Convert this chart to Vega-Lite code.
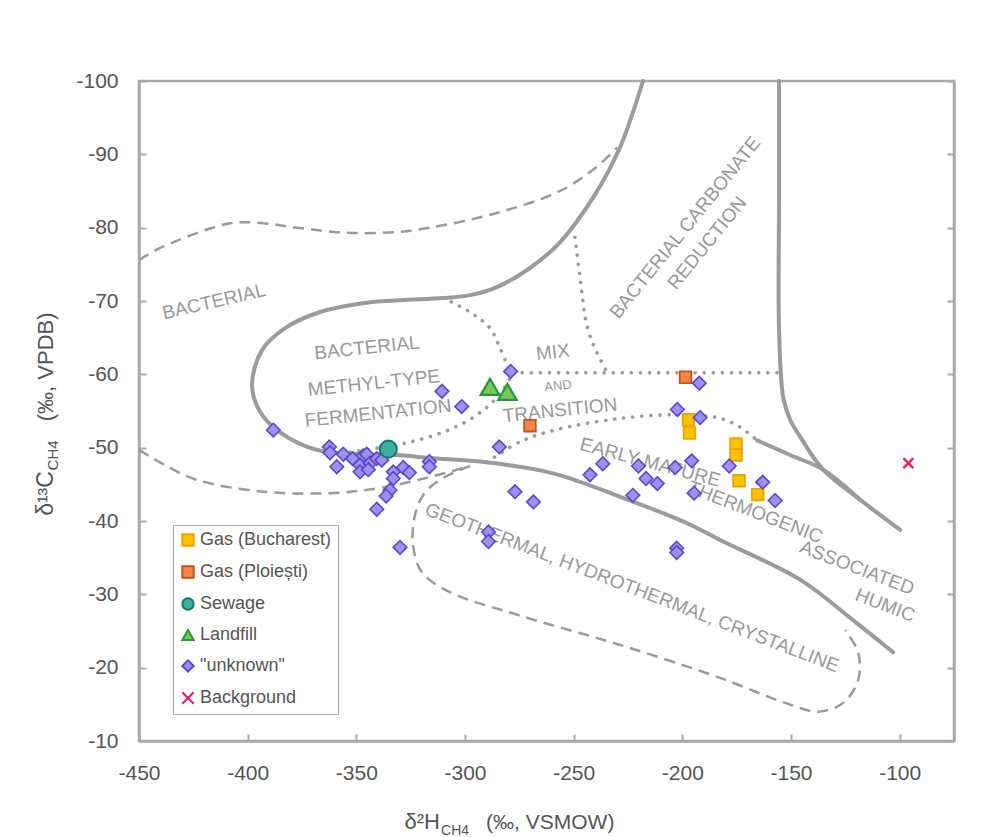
{
  "$schema": "https://vega.github.io/schema/vega-lite/v6.json",
  "width": 815,
  "height": 660,
  "autosize": "none",
  "padding": {"left": 139, "top": 81, "right": 27, "bottom": 96},
  "background": "white",
  "config": {
    "font": "Liberation Sans",
    "view": {"stroke": "#aaaaaa", "strokeWidth": 2.5},
    "axis": {"domainColor": "#aaaaaa", "domainWidth": 2.5, "tickColor": "#aaaaaa", "tickWidth": 2, "tickSize": -7, "labelPadding": 28, "labelFontSize": 21, "labelColor": "#555555", "labelFont": "Liberation Sans", "grid": false, "title": null, "labelFlush": false, "labelExpr": "datum.value + ''"},
    "legend": {"labelFontSize": 18, "labelColor": "#555555", "labelFont": "Liberation Sans", "symbolSize": 130, "symbolStrokeWidth": 2, "rowPadding": 12, "padding": 6, "strokeColor": "#aaaaaa", "fillColor": "#ffffff", "labelOffset": 3}
  },
  "datasets": {
    "curves": [
      {"c":"S1","s":"solid","i":0,"x":-218.1,"y":-100},{"c":"S1","s":"solid","i":1,"x":-223.1,"y":-95.4},{"c":"S1","s":"solid","i":2,"x":-228.6,"y":-91.0},{"c":"S1","s":"solid","i":3,"x":-240.2,"y":-84.5},{"c":"S1","s":"solid","i":4,"x":-256.3,"y":-78.0},{"c":"S1","s":"solid","i":5,"x":-270.1,"y":-74.5},{"c":"S1","s":"solid","i":6,"x":-285.3,"y":-71.9},{"c":"S1","s":"solid","i":7,"x":-297.7,"y":-70.8},{"c":"S1","s":"solid","i":8,"x":-310.1,"y":-70.4},{"c":"S1","s":"solid","i":9,"x":-329.9,"y":-70.1},{"c":"S1","s":"solid","i":10,"x":-346.9,"y":-69.7},{"c":"S1","s":"solid","i":11,"x":-366.7,"y":-68.5},{"c":"S1","s":"solid","i":12,"x":-382.8,"y":-66.3},{"c":"S1","s":"solid","i":13,"x":-393.4,"y":-63.3},{"c":"S1","s":"solid","i":14,"x":-398.0,"y":-58.5},{"c":"S1","s":"solid","i":15,"x":-394.3,"y":-54.9},{"c":"S1","s":"solid","i":16,"x":-385.1,"y":-52.1},{"c":"S1","s":"solid","i":17,"x":-368.1,"y":-49.7},{"c":"S1","s":"solid","i":18,"x":-346.9,"y":-49.1},{"c":"S1","s":"solid","i":19,"x":-331.3,"y":-49.0},{"c":"S1","s":"solid","i":20,"x":-316.1,"y":-48.6},{"c":"S1","s":"solid","i":21,"x":-289.9,"y":-48.0},{"c":"S1","s":"solid","i":22,"x":-259.5,"y":-46.5},{"c":"S1","s":"solid","i":23,"x":-228.6,"y":-43.3},{"c":"S1","s":"solid","i":24,"x":-197.8,"y":-39.7},{"c":"S1","s":"solid","i":25,"x":-182.6,"y":-37.4},{"c":"S1","s":"solid","i":26,"x":-145.8,"y":-32.0},{"c":"S1","s":"solid","i":27,"x":-122.8,"y":-26.8},{"c":"S1","s":"solid","i":28,"x":-103.0,"y":-22.1},
      {"c":"S2","s":"solid","i":0,"x":-155.5,"y":-100},{"c":"S2","s":"solid","i":1,"x":-155.5,"y":-83.8},{"c":"S2","s":"solid","i":2,"x":-155.5,"y":-66.0},{"c":"S2","s":"solid","i":3,"x":-153.6,"y":-56.9},{"c":"S2","s":"solid","i":4,"x":-150.4,"y":-53.8},{"c":"S2","s":"solid","i":5,"x":-145.8,"y":-51.5},{"c":"S2","s":"solid","i":6,"x":-135.2,"y":-47.0},{"c":"S2","s":"solid","i":7,"x":-118.2,"y":-42.9},{"c":"S2","s":"solid","i":8,"x":-99.8,"y":-38.8},
      {"c":"S3","s":"solid","i":0,"x":-165.6,"y":-51.0},{"c":"S3","s":"solid","i":1,"x":-150.4,"y":-49.0},{"c":"S3","s":"solid","i":2,"x":-135.2,"y":-47.0},{"c":"S3","s":"solid","i":3,"x":-118.2,"y":-42.9},
      {"c":"D1","s":"dotted","i":0,"x":-277.9,"y":-60.2},{"c":"D1","s":"dotted","i":1,"x":-153.6,"y":-60.2},
      {"c":"D2","s":"dotted","i":0,"x":-352.9,"y":-49.4},{"c":"D2","s":"dotted","i":1,"x":-331.3,"y":-50.4},{"c":"D2","s":"dotted","i":2,"x":-316.1,"y":-51.5},{"c":"D2","s":"dotted","i":3,"x":-302.3,"y":-53.1},{"c":"D2","s":"dotted","i":4,"x":-289.9,"y":-55.5},{"c":"D2","s":"dotted","i":5,"x":-282.5,"y":-57.9},{"c":"D2","s":"dotted","i":6,"x":-277.9,"y":-60.2},
      {"c":"D3","s":"dotted","i":0,"x":-310.1,"y":-70.4},{"c":"D3","s":"dotted","i":1,"x":-297.7,"y":-68.5},{"c":"D3","s":"dotted","i":2,"x":-288.5,"y":-66.3},{"c":"D3","s":"dotted","i":3,"x":-283.9,"y":-63.6},{"c":"D3","s":"dotted","i":4,"x":-279.3,"y":-60.3},
      {"c":"D4","s":"dotted","i":0,"x":-249.4,"y":-78.7},{"c":"D4","s":"dotted","i":1,"x":-247.1,"y":-73.3},{"c":"D4","s":"dotted","i":2,"x":-243.8,"y":-66.5},{"c":"D4","s":"dotted","i":3,"x":-239.2,"y":-62.9},{"c":"D4","s":"dotted","i":4,"x":-234.6,"y":-60.3},
      {"c":"D5","s":"dotted","i":0,"x":-289.9,"y":-48.0},{"c":"D5","s":"dotted","i":1,"x":-274.7,"y":-50.8},{"c":"D5","s":"dotted","i":2,"x":-258.6,"y":-52.4},{"c":"D5","s":"dotted","i":3,"x":-228.6,"y":-54.0},{"c":"D5","s":"dotted","i":4,"x":-197.4,"y":-54.5},{"c":"D5","s":"dotted","i":5,"x":-182.6,"y":-54.0},{"c":"D5","s":"dotted","i":6,"x":-173.4,"y":-52.8},{"c":"D5","s":"dotted","i":7,"x":-165.6,"y":-51.0},
      {"c":"B1","s":"dashed","i":0,"x":-450,"y":-75.6},{"c":"B1","s":"dashed","i":1,"x":-439.0,"y":-77.4},{"c":"B1","s":"dashed","i":2,"x":-408.1,"y":-80.6},{"c":"B1","s":"dashed","i":3,"x":-393.0,"y":-80.6},{"c":"B1","s":"dashed","i":4,"x":-377.3,"y":-80.0},{"c":"B1","s":"dashed","i":5,"x":-354.3,"y":-79.3},{"c":"B1","s":"dashed","i":6,"x":-331.3,"y":-79.4},{"c":"B1","s":"dashed","i":7,"x":-316.1,"y":-80.0},{"c":"B1","s":"dashed","i":8,"x":-285.3,"y":-82.0},{"c":"B1","s":"dashed","i":9,"x":-256.3,"y":-85.0},{"c":"B1","s":"dashed","i":10,"x":-241.1,"y":-87.9},{"c":"B1","s":"dashed","i":11,"x":-230.0,"y":-90.9},
      {"c":"B2","s":"dashed","i":0,"x":-450,"y":-49.7},{"c":"B2","s":"dashed","i":1,"x":-438.0,"y":-47.6},{"c":"B2","s":"dashed","i":2,"x":-423.3,"y":-45.6},{"c":"B2","s":"dashed","i":3,"x":-393.0,"y":-44.0},{"c":"B2","s":"dashed","i":4,"x":-362.1,"y":-43.8},{"c":"B2","s":"dashed","i":5,"x":-339.1,"y":-44.5},{"c":"B2","s":"dashed","i":6,"x":-316.1,"y":-46.0},{"c":"B2","s":"dashed","i":7,"x":-297.7,"y":-47.5},
      {"c":"G","s":"dashed","i":0,"x":-297.7,"y":-47.5},{"c":"G","s":"dashed","i":1,"x":-309.2,"y":-46.0},{"c":"G","s":"dashed","i":2,"x":-318.4,"y":-43.9},{"c":"G","s":"dashed","i":3,"x":-323.0,"y":-40.8},{"c":"G","s":"dashed","i":4,"x":-323.9,"y":-36.7},{"c":"G","s":"dashed","i":5,"x":-319.8,"y":-33.0},{"c":"G","s":"dashed","i":6,"x":-306.9,"y":-30.3},{"c":"G","s":"dashed","i":7,"x":-274.7,"y":-27.1},{"c":"G","s":"dashed","i":8,"x":-228.6,"y":-23.1},{"c":"G","s":"dashed","i":9,"x":-182.6,"y":-18.6},{"c":"G","s":"dashed","i":10,"x":-152.7,"y":-15.2},{"c":"G","s":"dashed","i":11,"x":-137.5,"y":-14.0},{"c":"G","s":"dashed","i":12,"x":-126.0,"y":-15.2},{"c":"G","s":"dashed","i":13,"x":-119.1,"y":-18.3},{"c":"G","s":"dashed","i":14,"x":-119.1,"y":-22.1},{"c":"G","s":"dashed","i":15,"x":-125.1,"y":-25.1}
    ],
    "points": [
      {"type":"Gas (Bucharest)","x":-197.2,"y":-53.8},{"type":"Gas (Bucharest)","x":-196.7,"y":-52.0},{"type":"Gas (Bucharest)","x":-175.3,"y":-50.5},{"type":"Gas (Bucharest)","x":-175.3,"y":-49.0},{"type":"Gas (Bucharest)","x":-173.9,"y":-45.5},{"type":"Gas (Bucharest)","x":-165.3,"y":-43.6},
      {"type":"Gas (Ploiești)","x":-198.5,"y":-59.6},{"type":"Gas (Ploiești)","x":-270.1,"y":-53.0},
      {"type":"\"unknown\"","x":-388.2,"y":-52.4},{"type":"\"unknown\"","x":-362.4,"y":-50.1},{"type":"\"unknown\"","x":-362.1,"y":-49.3},{"type":"\"unknown\"","x":-356.0,"y":-49.1},{"type":"\"unknown\"","x":-359.0,"y":-47.4},{"type":"\"unknown\"","x":-351.7,"y":-48.5},{"type":"\"unknown\"","x":-346.8,"y":-48.9},{"type":"\"unknown\"","x":-345.2,"y":-49.1},{"type":"\"unknown\"","x":-348.3,"y":-47.6},{"type":"\"unknown\"","x":-348.3,"y":-46.7},{"type":"\"unknown\"","x":-343.7,"y":-47.9},{"type":"\"unknown\"","x":-344.5,"y":-47.0},{"type":"\"unknown\"","x":-340.6,"y":-48.5},{"type":"\"unknown\"","x":-338.3,"y":-48.3},{"type":"\"unknown\"","x":-333.0,"y":-46.7},{"type":"\"unknown\"","x":-333.0,"y":-45.8},{"type":"\"unknown\"","x":-328.4,"y":-47.3},{"type":"\"unknown\"","x":-325.6,"y":-46.6},{"type":"\"unknown\"","x":-334.5,"y":-44.2},{"type":"\"unknown\"","x":-336.3,"y":-43.4},{"type":"\"unknown\"","x":-340.6,"y":-41.6},{"type":"\"unknown\"","x":-329.9,"y":-36.4},{"type":"\"unknown\"","x":-316.4,"y":-48.1},{"type":"\"unknown\"","x":-316.4,"y":-47.4},{"type":"\"unknown\"","x":-310.6,"y":-57.7},{"type":"\"unknown\"","x":-301.5,"y":-55.6},{"type":"\"unknown\"","x":-279.0,"y":-60.4},{"type":"\"unknown\"","x":-284.2,"y":-50.1},{"type":"\"unknown\"","x":-277.0,"y":-44.0},{"type":"\"unknown\"","x":-268.5,"y":-42.6},{"type":"\"unknown\"","x":-289.2,"y":-38.5},{"type":"\"unknown\"","x":-289.2,"y":-37.2},{"type":"\"unknown\"","x":-242.5,"y":-46.3},{"type":"\"unknown\"","x":-236.6,"y":-47.8},{"type":"\"unknown\"","x":-220.2,"y":-47.5},{"type":"\"unknown\"","x":-216.7,"y":-45.8},{"type":"\"unknown\"","x":-211.5,"y":-45.1},{"type":"\"unknown\"","x":-222.8,"y":-43.5},{"type":"\"unknown\"","x":-202.6,"y":-36.3},{"type":"\"unknown\"","x":-202.6,"y":-35.7},{"type":"\"unknown\"","x":-202.3,"y":-55.2},{"type":"\"unknown\"","x":-192.2,"y":-58.8},{"type":"\"unknown\"","x":-191.8,"y":-54.1},{"type":"\"unknown\"","x":-195.7,"y":-48.2},{"type":"\"unknown\"","x":-203.3,"y":-47.3},{"type":"\"unknown\"","x":-194.6,"y":-43.8},{"type":"\"unknown\"","x":-178.4,"y":-47.5},{"type":"\"unknown\"","x":-163.0,"y":-45.3},{"type":"\"unknown\"","x":-157.3,"y":-42.8},
      {"type":"Sewage","x":-335.3,"y":-49.8},
      {"type":"Landfill","x":-288.5,"y":-58.3},{"type":"Landfill","x":-280.5,"y":-57.6},
      {"type":"Background","x":-96.0,"y":-47.9}
    ]
  },
  "encoding": {
    "x": {"field": "x", "type": "quantitative", "scale": {"domain": [-450, -75], "nice": false, "zero": false}, "axis": {"values": [-450, -400, -350, -300, -250, -200, -150, -100]}},
    "y": {"field": "y", "type": "quantitative", "scale": {"domain": [-100, -10], "reverse": true, "nice": false, "zero": false}, "axis": null}
  },
  "layer": [
    {
      "data": {"name": "curves"},
      "transform": [{"filter": "datum.s === 'solid'"}],
      "mark": {"type": "line", "color": "#9b9b9b", "strokeWidth": 4, "interpolate": "catmull-rom", "strokeCap": "round"},
      "encoding": {
        "y": {"field": "y", "type": "quantitative", "scale": {"domain": [-100, -10], "reverse": true, "nice": false, "zero": false}, "axis": {"orient": "left", "values": [-100, -90, -80, -70, -60, -50, -40, -30, -20, -10]}},
        "detail": {"field": "c"},
        "order": {"field": "i", "type": "quantitative"}
      }
    },
    {
      "data": {"name": "curves"},
      "transform": [{"filter": "datum.s === 'dashed'"}],
      "mark": {"type": "line", "color": "#9b9b9b", "strokeWidth": 2.5, "strokeDash": [11, 7], "interpolate": "catmull-rom"},
      "encoding": {
        "y": {"field": "y", "type": "quantitative", "scale": {"domain": [-100, -10], "reverse": true, "nice": false, "zero": false}, "axis": {"orient": "right", "labels": false, "values": [-100, -90, -80, -70, -60, -50, -40, -30, -20, -10]}},
        "detail": {"field": "c"},
        "order": {"field": "i", "type": "quantitative"}
      }
    },
    {
      "data": {"name": "curves"},
      "transform": [{"filter": "datum.s === 'dotted'"}],
      "mark": {"type": "line", "color": "#9b9b9b", "strokeWidth": 3.6, "strokeDash": [0.1, 9], "strokeCap": "round", "interpolate": "catmull-rom"},
      "encoding": {
        "detail": {"field": "c"},
        "order": {"field": "i", "type": "quantitative"}
      }
    },
    {
      "data": {"values": [{"t": "BACTERIAL", "x": -415.5, "y": -69.9}]},
      "mark": {"type": "text", "angle": -13, "fontSize": 19, "color": "#999999", "font": "Liberation Sans"},
      "encoding": {"text": {"field": "t"}}
    },
    {
      "data": {"values": [{"t": "BACTERIAL", "x": -345.1, "y": -63.6}, {"t": "METHYL-TYPE", "x": -341.9, "y": -58.8}, {"t": "FERMENTATION", "x": -340.0, "y": -54.7}, {"t": "MIX", "x": -259.5, "y": -63.0}, {"t": "TRANSITION", "x": -256.3, "y": -55.1}]},
      "mark": {"type": "text", "angle": -6, "fontSize": 19, "color": "#999999", "font": "Liberation Sans"},
      "encoding": {"text": {"field": "t"}}
    },
    {
      "data": {"values": [{"t": "AND", "x": -257.2, "y": -58.4}]},
      "mark": {"type": "text", "angle": -6, "fontSize": 13, "color": "#999999", "font": "Liberation Sans"},
      "encoding": {"text": {"field": "t"}}
    },
    {
      "data": {"values": [{"t": "EARLY MATURE", "x": -214.8, "y": -48.0}]},
      "mark": {"type": "text", "angle": 15, "fontSize": 19, "color": "#999999", "font": "Liberation Sans"},
      "encoding": {"text": {"field": "t"}}
    },
    {
      "data": {"values": [{"t": "THERMOGENIC", "x": -166.5, "y": -41.2}, {"t": "ASSOCIATED", "x": -119.6, "y": -33.6}, {"t": "HUMIC", "x": -106.7, "y": -28.5}, {"t": "GEOTHERMAL, HYDROTHERMAL, CRYSTALLINE", "x": -223.1, "y": -30.9}]},
      "mark": {"type": "text", "angle": 21, "fontSize": 19, "color": "#999999", "font": "Liberation Sans"},
      "encoding": {"text": {"field": "t"}}
    },
    {
      "data": {"values": [{"t": "BACTERIAL CARBONATE", "x": -198.7, "y": -80.0}, {"t": "REDUCTION", "x": -188.6, "y": -77.9}]},
      "mark": {"type": "text", "angle": -51, "fontSize": 19, "color": "#999999", "font": "Liberation Sans"},
      "encoding": {"text": {"field": "t"}}
    },
    {
      "data": {"values": [{"t": "δ²H", "x": -311.5, "y": 2.0}]},
      "mark": {"type": "text", "align": "right", "baseline": "alphabetic", "fontSize": 22, "color": "#555555", "font": "Liberation Sans"},
      "encoding": {"text": {"field": "t"}}
    },
    {
      "data": {"values": [{"t": "CH4", "x": -311.0, "y": 2.8}]},
      "mark": {"type": "text", "align": "left", "baseline": "alphabetic", "fontSize": 14, "color": "#555555", "font": "Liberation Sans"},
      "encoding": {"text": {"field": "t"}}
    },
    {
      "data": {"values": [{"t": "(‰, VSMOW)", "x": -290.3, "y": 2.0}]},
      "mark": {"type": "text", "align": "left", "baseline": "alphabetic", "fontSize": 21, "color": "#555555", "font": "Liberation Sans"},
      "encoding": {"text": {"field": "t"}}
    },
    {
      "data": {"values": [{"t": "δ¹³C", "x": -489.6, "y": -46.8}]},
      "mark": {"type": "text", "angle": 270, "align": "right", "baseline": "alphabetic", "fontSize": 23, "color": "#555555", "font": "Liberation Sans"},
      "encoding": {"text": {"field": "t"}}
    },
    {
      "data": {"values": [{"t": "CH4", "x": -487.3, "y": -46.9}]},
      "mark": {"type": "text", "angle": 270, "align": "left", "baseline": "alphabetic", "fontSize": 15, "color": "#555555", "font": "Liberation Sans"},
      "encoding": {"text": {"field": "t"}}
    },
    {
      "data": {"values": [{"t": "(‰, VPDB)", "x": -489.6, "y": -53.6}]},
      "mark": {"type": "text", "angle": 270, "align": "left", "baseline": "alphabetic", "fontSize": 22, "color": "#555555", "font": "Liberation Sans"},
      "encoding": {"text": {"field": "t"}}
    },
    {
      "data": {"name": "points"},
      "transform": [{"filter": "datum.type === 'Gas (Bucharest)'"}],
      "mark": {"type": "point", "filled": true, "opacity": 1, "strokeWidth": 1.8, "size": 135},
      "encoding": {
        "shape": {"field": "type", "type": "nominal", "scale": {"domain": ["Gas (Bucharest)", "Gas (Ploiești)", "Sewage", "Landfill", "\"unknown\"", "Background"], "range": ["square", "square", "circle", "triangle-up", "diamond", "M-1,-1L1,1M-1,1L1,-1"]}, "legend": {"title": null, "orient": "none", "legendX": 34, "legendY": 444, "symbolSize": 130}},
        "fill": {"field": "type", "type": "nominal", "scale": {"domain": ["Gas (Bucharest)", "Gas (Ploiești)", "Sewage", "Landfill", "\"unknown\"", "Background"], "range": ["#fcc200", "#f4854a", "#3fae9f", "#7cc75b", "#9d90ee", "#ffffff"]}},
        "stroke": {"field": "type", "type": "nominal", "scale": {"domain": ["Gas (Bucharest)", "Gas (Ploiești)", "Sewage", "Landfill", "\"unknown\"", "Background"], "range": ["#eea200", "#c4541a", "#147a6c", "#23993a", "#5a48cc", "#ec1c5c"]}}
      }
    },
    {
      "data": {"name": "points"},
      "transform": [{"filter": "datum.type === 'Gas (Ploiești)'"}],
      "mark": {"type": "point", "filled": true, "opacity": 1, "strokeWidth": 1.8, "size": 135},
      "encoding": {
        "shape": {"field": "type", "type": "nominal", "scale": {"domain": ["Gas (Bucharest)", "Gas (Ploiești)", "Sewage", "Landfill", "\"unknown\"", "Background"], "range": ["square", "square", "circle", "triangle-up", "diamond", "M-1,-1L1,1M-1,1L1,-1"]}, "legend": {"title": null, "orient": "none", "legendX": 34, "legendY": 444, "symbolSize": 130}},
        "fill": {"field": "type", "type": "nominal", "scale": {"domain": ["Gas (Bucharest)", "Gas (Ploiești)", "Sewage", "Landfill", "\"unknown\"", "Background"], "range": ["#fcc200", "#f4854a", "#3fae9f", "#7cc75b", "#9d90ee", "#ffffff"]}},
        "stroke": {"field": "type", "type": "nominal", "scale": {"domain": ["Gas (Bucharest)", "Gas (Ploiești)", "Sewage", "Landfill", "\"unknown\"", "Background"], "range": ["#eea200", "#c4541a", "#147a6c", "#23993a", "#5a48cc", "#ec1c5c"]}}
      }
    },
    {
      "data": {"name": "points"},
      "transform": [{"filter": "datum.type === '\"unknown\"'"}],
      "mark": {"type": "point", "filled": true, "opacity": 1, "strokeWidth": 1.6, "size": 185},
      "encoding": {
        "shape": {"field": "type", "type": "nominal", "scale": {"domain": ["Gas (Bucharest)", "Gas (Ploiești)", "Sewage", "Landfill", "\"unknown\"", "Background"], "range": ["square", "square", "circle", "triangle-up", "diamond", "M-1,-1L1,1M-1,1L1,-1"]}, "legend": {"title": null, "orient": "none", "legendX": 34, "legendY": 444, "symbolSize": 130}},
        "fill": {"field": "type", "type": "nominal", "scale": {"domain": ["Gas (Bucharest)", "Gas (Ploiești)", "Sewage", "Landfill", "\"unknown\"", "Background"], "range": ["#fcc200", "#f4854a", "#3fae9f", "#7cc75b", "#9d90ee", "#ffffff"]}},
        "stroke": {"field": "type", "type": "nominal", "scale": {"domain": ["Gas (Bucharest)", "Gas (Ploiești)", "Sewage", "Landfill", "\"unknown\"", "Background"], "range": ["#eea200", "#c4541a", "#147a6c", "#23993a", "#5a48cc", "#ec1c5c"]}}
      }
    },
    {
      "data": {"name": "points"},
      "transform": [{"filter": "datum.type === 'Sewage'"}],
      "mark": {"type": "point", "filled": true, "opacity": 1, "strokeWidth": 2, "size": 290},
      "encoding": {
        "shape": {"field": "type", "type": "nominal", "scale": {"domain": ["Gas (Bucharest)", "Gas (Ploiești)", "Sewage", "Landfill", "\"unknown\"", "Background"], "range": ["square", "square", "circle", "triangle-up", "diamond", "M-1,-1L1,1M-1,1L1,-1"]}, "legend": {"title": null, "orient": "none", "legendX": 34, "legendY": 444, "symbolSize": 130}},
        "fill": {"field": "type", "type": "nominal", "scale": {"domain": ["Gas (Bucharest)", "Gas (Ploiești)", "Sewage", "Landfill", "\"unknown\"", "Background"], "range": ["#fcc200", "#f4854a", "#3fae9f", "#7cc75b", "#9d90ee", "#ffffff"]}},
        "stroke": {"field": "type", "type": "nominal", "scale": {"domain": ["Gas (Bucharest)", "Gas (Ploiești)", "Sewage", "Landfill", "\"unknown\"", "Background"], "range": ["#eea200", "#c4541a", "#147a6c", "#23993a", "#5a48cc", "#ec1c5c"]}}
      }
    },
    {
      "data": {"name": "points"},
      "transform": [{"filter": "datum.type === 'Landfill'"}],
      "mark": {"type": "point", "filled": true, "opacity": 1, "strokeWidth": 2.2, "size": 340},
      "encoding": {
        "shape": {"field": "type", "type": "nominal", "scale": {"domain": ["Gas (Bucharest)", "Gas (Ploiești)", "Sewage", "Landfill", "\"unknown\"", "Background"], "range": ["square", "square", "circle", "triangle-up", "diamond", "M-1,-1L1,1M-1,1L1,-1"]}, "legend": {"title": null, "orient": "none", "legendX": 34, "legendY": 444, "symbolSize": 130}},
        "fill": {"field": "type", "type": "nominal", "scale": {"domain": ["Gas (Bucharest)", "Gas (Ploiești)", "Sewage", "Landfill", "\"unknown\"", "Background"], "range": ["#fcc200", "#f4854a", "#3fae9f", "#7cc75b", "#9d90ee", "#ffffff"]}},
        "stroke": {"field": "type", "type": "nominal", "scale": {"domain": ["Gas (Bucharest)", "Gas (Ploiești)", "Sewage", "Landfill", "\"unknown\"", "Background"], "range": ["#eea200", "#c4541a", "#147a6c", "#23993a", "#5a48cc", "#ec1c5c"]}}
      }
    },
    {
      "data": {"name": "points"},
      "transform": [{"filter": "datum.type === 'Background'"}],
      "mark": {"type": "point", "filled": true, "opacity": 1, "strokeWidth": 2.4, "size": 100},
      "encoding": {
        "shape": {"field": "type", "type": "nominal", "scale": {"domain": ["Gas (Bucharest)", "Gas (Ploiești)", "Sewage", "Landfill", "\"unknown\"", "Background"], "range": ["square", "square", "circle", "triangle-up", "diamond", "M-1,-1L1,1M-1,1L1,-1"]}, "legend": {"title": null, "orient": "none", "legendX": 34, "legendY": 444, "symbolSize": 130}},
        "fill": {"field": "type", "type": "nominal", "scale": {"domain": ["Gas (Bucharest)", "Gas (Ploiești)", "Sewage", "Landfill", "\"unknown\"", "Background"], "range": ["#fcc200", "#f4854a", "#3fae9f", "#7cc75b", "#9d90ee", "#ffffff"]}},
        "stroke": {"field": "type", "type": "nominal", "scale": {"domain": ["Gas (Bucharest)", "Gas (Ploiești)", "Sewage", "Landfill", "\"unknown\"", "Background"], "range": ["#eea200", "#c4541a", "#147a6c", "#23993a", "#5a48cc", "#ec1c5c"]}}
      }
    }
  ],
  "resolve": {"axis": {"y": "independent"}}
}
